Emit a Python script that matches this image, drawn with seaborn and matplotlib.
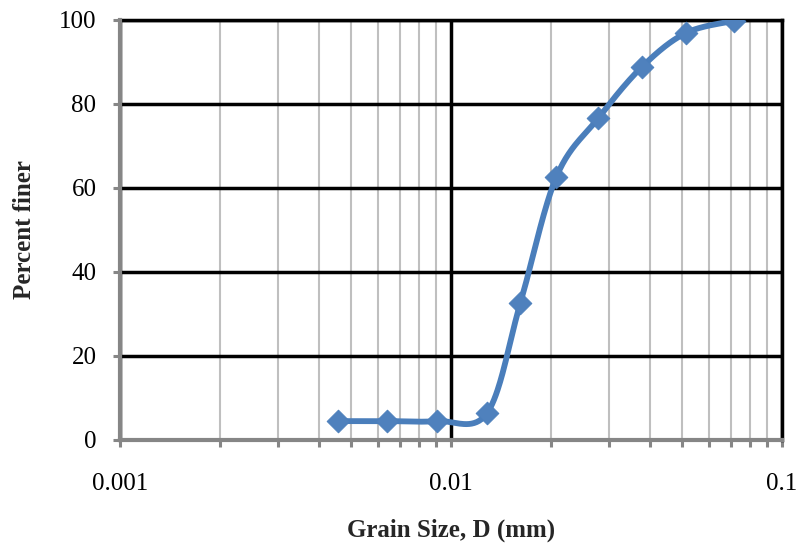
import numpy as np
import pandas as pd
import matplotlib
matplotlib.use("Agg")
import matplotlib.pyplot as plt
from matplotlib.ticker import LogLocator, FixedLocator, NullFormatter
import seaborn as sns

# grain size distribution
grain_size = [0.00455, 0.0064, 0.00907, 0.01285, 0.0162, 0.0208, 0.0279, 0.0377, 0.0512, 0.0717]
percent_finer = [4.5, 4.5, 4.5, 6.4, 32.6, 62.6, 76.7, 88.8, 96.9, 99.8]
x_ticks = [0.001, 0.01, 0.1]
x_tick_labels = ["0.001", "0.01", "0.1"]
y_ticks = [0, 20, 40, 60, 80, 100]

sns.set_theme(style="white")
plt.rcParams["font.family"] = ["Liberation Serif", "DejaVu Serif"]

blue = "#4A7EBB"
gray = "#868686"


def smooth_curve(xs, ys, n=40):
    # excel-like smoothed line: catmull-rom bezier in screen-ish space (log x)
    u = (np.log10(xs) + 3) * 331.0
    v = np.asarray(ys) * 4.2
    P = np.column_stack([u, v])
    P = np.vstack([P[0], P, P[-1]])
    out = []
    for i in range(1, len(P) - 2):
        p0, p1, p2, p3 = P[i - 1], P[i], P[i + 1], P[i + 2]
        c1 = p1 + (p2 - p0) / 6.0
        c2 = p2 - (p3 - p1) / 6.0
        t = np.linspace(0, 1, n)[:, None]
        seg = ((1 - t) ** 3) * p1 + 3 * ((1 - t) ** 2) * t * c1 + 3 * (1 - t) * t ** 2 * c2 + t ** 3 * p2
        out.append(seg if i == 1 else seg[1:])
    out = np.vstack(out)
    return 10 ** (out[:, 0] / 331.0 - 3), out[:, 1] / 4.2


sx, sy = smooth_curve(grain_size, percent_finer)
curve = pd.DataFrame({"size": sx, "finer": sy})
pts = pd.DataFrame({"size": grain_size, "finer": percent_finer})

fig = plt.figure(figsize=(7.97, 5.5), dpi=100)
ax = fig.add_axes([120 / 797, 110 / 550, 662 / 797, 420 / 550])

ax.set_xscale("log")
ax.set_xlim(0.001, 0.1)
ax.set_ylim(0, 100)

# grid
ax.xaxis.set_major_locator(FixedLocator(x_ticks))
ax.xaxis.set_minor_locator(LogLocator(base=10, subs=np.arange(2, 10)))
ax.xaxis.set_minor_formatter(NullFormatter())
ax.set_xticks(x_ticks)
ax.set_xticklabels(x_tick_labels)
ax.set_yticks(y_ticks)
ax.grid(which="major", axis="both", color="black", linewidth=2.5, zorder=0)
ax.grid(which="minor", axis="x", color="#BFBFBF", linewidth=1.5, zorder=0)
ax.set_axisbelow(True)

sns.lineplot(data=curve, x="size", y="finer", ax=ax, color=blue, linewidth=4.2,
             sort=False, estimator=None, zorder=3)
sns.scatterplot(data=pts, x="size", y="finer", ax=ax, marker="D", s=135, color="#4F81BD",
                edgecolor=blue, linewidth=0.6, zorder=4)

for side in ["top", "right"]:
    ax.spines[side].set_color("black")
    ax.spines[side].set_linewidth(2.5)
for side in ["left", "bottom"]:
    ax.spines[side].set_color(gray)
    ax.spines[side].set_linewidth(3.0)
    ax.spines[side].set_zorder(5)

ax.tick_params(axis="both", which="major", direction="out", length=5, width=2.2,
               color=gray, labelsize=18, colors="black", left=True, bottom=True)
ax.tick_params(axis="x", which="minor", direction="out", length=5, width=2.2,
               color=gray, bottom=True)
ax.tick_params(axis="x", which="major", pad=19)
ax.tick_params(axis="y", which="major", pad=12)
for t in ax.get_xticklines() + ax.get_yticklines() + ax.xaxis.get_minorticklines():
    t.set_color(gray)

ax.set_xlabel("Grain Size, D (mm)", fontsize=18, fontweight="bold", va="center")
ax.set_ylabel("Percent finer", fontsize=18, fontweight="bold", va="center")
ax.xaxis.set_label_coords(0.5, -0.214)
ax.yaxis.set_label_coords(-0.145, 0.5)

fig.savefig("out.png", dpi=100)
